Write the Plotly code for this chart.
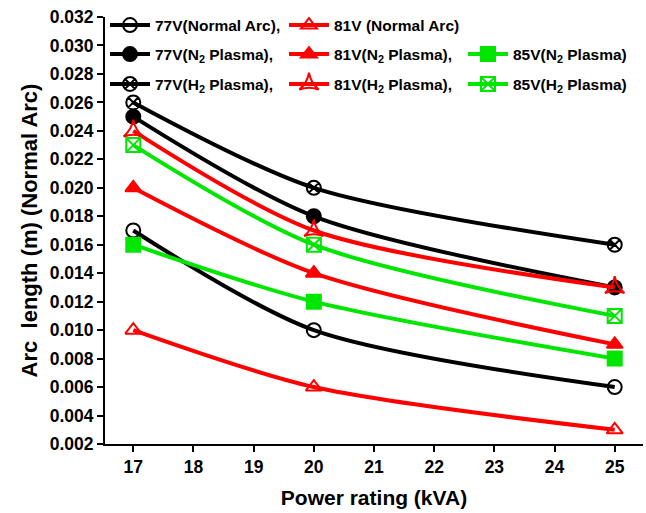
import plotly.graph_objects as go

power_kva = [17, 20, 25]
v77_normal = [0.017, 0.010, 0.006]
v81_normal = [0.010, 0.006, 0.003]
v77_n2 = [0.025, 0.018, 0.013]
v81_n2 = [0.020, 0.014, 0.009]
v85_n2 = [0.016, 0.012, 0.008]
v77_h2 = [0.026, 0.020, 0.016]
v81_h2 = [0.024, 0.017, 0.013]
v85_h2 = [0.023, 0.016, 0.011]

x_ticks = [17, 18, 19, 20, 21, 22, 23, 24, 25]
y_ticks = [0.002, 0.004, 0.006, 0.008, 0.010, 0.012, 0.014, 0.016, 0.018,
           0.020, 0.022, 0.024, 0.026, 0.028, 0.030, 0.032]

BLACK = "#000000"
RED = "#ff0000"
GREEN = "#00e600"

series = [
    ("77V(Normal Arc),", v77_normal, BLACK, "circle-open", "legend"),
    ("81V (Normal Arc)", v81_normal, RED, "triangle-up-open", "legend"),
    ("77V(N<sub>2</sub> Plasma),", v77_n2, BLACK, "circle", "legend2"),
    ("81V(N<sub>2</sub> Plasma),", v81_n2, RED, "triangle-up", "legend2"),
    ("85V(N<sub>2</sub> Plasma)", v85_n2, GREEN, "square", "legend2"),
    ("77V(H<sub>2</sub> Plasma),", v77_h2, BLACK, "circle-x-open", "legend3"),
    ("81V(H<sub>2</sub> Plasma),", v81_h2, RED, "star-triangle-up-open", "legend3"),
    ("85V(H<sub>2</sub> Plasma)", v85_h2, GREEN, "square-x-open", "legend3"),
]

fig = go.Figure()
for name, vals, col, sym, lg in series:
    fig.add_trace(go.Scatter(
        x=power_kva, y=vals, name=name, mode="lines+markers",
        line=dict(color=col, width=4, shape="spline", smoothing=0.8),
        marker=dict(symbol=sym, size=14, color=col,
                    line=dict(color=col, width=2)),
        legend=lg,
    ))

FONT = "Liberation Sans"
tickfont = dict(family=FONT, size=17.5, color="black", weight="bold")
xr = [16.53, 25.47]
yr = [0.002, 0.032]

legend_common = dict(orientation="h", xanchor="left", yanchor="top",
                     bgcolor="rgba(0,0,0,0)", borderwidth=0,
                     font=dict(family=FONT, size=15.5, color="black", weight="bold"),
                     itemwidth=40, tracegroupgap=0,
                     entrywidth=124, entrywidthmode="pixels")

fig.update_layout(
    width=646, height=513,
    margin=dict(l=105, r=3, t=17, b=69),
    plot_bgcolor="white", paper_bgcolor="white",
    showlegend=True,
    legend=dict(x=0, y=1.02, **legend_common),
    legend2=dict(x=0, y=0.952, **legend_common),
    legend3=dict(x=0, y=0.882, **legend_common),
    xaxis=dict(range=xr, tickvals=x_ticks, ticks="outside", ticklen=6, tickwidth=2,
               tickcolor="black", showline=True, linecolor="black", linewidth=2,
               showgrid=False, zeroline=False, tickfont=tickfont,
               title=dict(text="Power rating (kVA)", standoff=14,
                          font=dict(family=FONT, size=21, color="black", weight="bold"))),
    yaxis=dict(range=yr, tickvals=y_ticks, tickformat=".3f", ticks="outside", ticklen=6,
               tickwidth=2, tickcolor="black", showline=True, linecolor="black",
               linewidth=2, showgrid=False, zeroline=False, tickfont=tickfont,
               title=dict(text="Arc  length (m) (Normal Arc)", standoff=6,
                          font=dict(family=FONT, size=22, color="black", weight="bold"))),
    xaxis2=dict(range=xr, tickvals=x_ticks, overlaying="x", side="top", ticks="inside",
                ticklen=6, tickwidth=2, tickcolor="black", showline=True,
                linecolor="black", linewidth=2, showgrid=False, zeroline=False,
                showticklabels=False),
    yaxis2=dict(range=yr, tickvals=y_ticks, overlaying="y", side="right", ticks="inside",
                ticklen=6, tickwidth=2, tickcolor="black", showline=True,
                linecolor="black", linewidth=2, showgrid=False, zeroline=False,
                showticklabels=False),
)

fig.write_html("out.html")
